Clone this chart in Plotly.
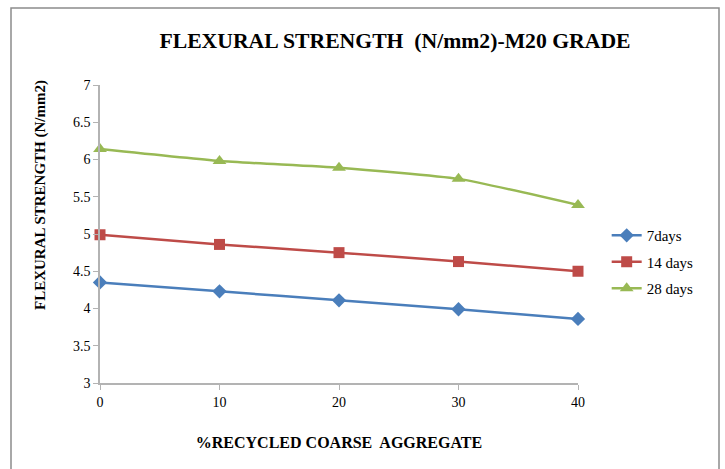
import plotly.graph_objects as go

x_vals = [0, 10, 20, 30, 40]
days7 = [4.35, 4.23, 4.11, 3.99, 3.86]
days14 = [4.99, 4.86, 4.75, 4.63, 4.50]
days28 = [6.14, 5.98, 5.89, 5.74, 5.39]
series_names = ["7days", "14 days", "28 days"]

colors = ["#4A7EBB", "#BE4B48", "#98B954"]
symbols = ["diamond", "square", "triangle-up"]
sizes = [11, 11, 12]

fig = go.Figure()
for name, vals, c, s, sz in zip(series_names, [days7, days14, days28], colors, symbols, sizes):
    fig.add_trace(go.Scatter(
        x=x_vals, y=vals, name=name, mode="lines+markers", legendgroup=name,
        line=dict(color=c, width=2.5, shape="spline", smoothing=0.5),
        marker=dict(symbol=s, size=sz, color=c),
        cliponaxis=False,
    ))

font_family = "Liberation Serif, Times New Roman, serif"
fig.update_layout(
    width=725, height=469,
    margin=dict(l=100, r=147, t=85, b=86),
    paper_bgcolor="white", plot_bgcolor="white",
    font=dict(family=font_family, color="#000000", size=14),
    title=dict(text="<b>FLEXURAL STRENGTH  (N/mm2)-M20 GRADE</b>",
               x=395/725, xanchor="center", y=1-40/469, yanchor="middle",
               font=dict(size=21.7, family=font_family)),
    showlegend=True,
    legend=dict(x=1.06, y=0.55, xanchor="left", yanchor="top",
                font=dict(size=15, family=font_family),
                bgcolor="rgba(0,0,0,0)", tracegroupgap=4),
    xaxis=dict(range=[0, 40], tickvals=[0, 10, 20, 30, 40],
               showgrid=False, zeroline=False, showline=True,
               linecolor="#B3B3B3", linewidth=1.5,
               ticks="outside", ticklen=5, tickcolor="#B3B3B3",
               tickfont=dict(size=14),
               title=dict(text="<b>%RECYCLED COARSE  AGGREGATE</b>",
                          font=dict(size=16), standoff=28)),
    yaxis=dict(range=[3, 7], dtick=0.5,
               showgrid=False, zeroline=False, showline=True,
               linecolor="#B3B3B3", linewidth=1.5,
               ticks="outside", ticklen=5, tickcolor="#B3B3B3",
               tickfont=dict(size=14)),
    annotations=[dict(text="<b>FLEXURAL STRENGTH (N/mm2)</b>", textangle=-90,
                      xref="paper", yref="paper", x=(40-100)/478, y=(383-195)/298,
                      xanchor="center", yanchor="middle", showarrow=False,
                      font=dict(size=15, family=font_family))],
    shapes=[dict(type="rect", xref="paper", yref="paper",
                 x0=(11-100)/478, x1=(719-100)/478,
                 y0=(383-480)/298, y1=(383-8)/298,
                 line=dict(color="#8C8C8C", width=1.5))],
)

fig.write_html("out.html", config={"displayModeBar": False},
               post_script="document.body.style.margin='0';")
